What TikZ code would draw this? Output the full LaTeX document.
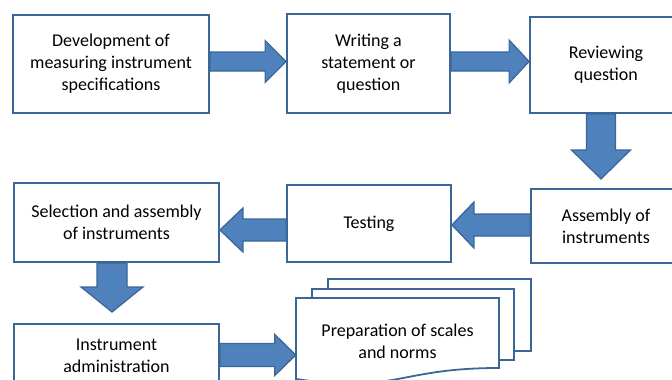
\documentclass[tikz,border=0pt]{standalone}
\usepackage{fontspec}
\setmainfont{Carlito}
\usetikzlibrary{calc,positioning}
\definecolor{boxline}{RGB}{59,103,152}
\definecolor{arrfill}{RGB}{79,129,189}
\definecolor{arrline}{RGB}{58,101,150}
\tikzset{
  procbox/.style = {draw=boxline, line width=1.8pt, fill=white, align=center,
    inner sep=0pt, font=\fontsize{18}{22}\selectfont},% step box
  docsheet/.style = {draw=boxline, line width=1.8pt, fill=white},% sheets of the document
  doctext/.style = {align=center, inner sep=0pt, font=\fontsize{18}{22}\selectfont},
  blockarr/.style n args = {3}{draw=arrline, line width=1.2pt, fill=arrfill,
    line join=miter, to path={
      ($(\tikztotarget)!#3!(\tikztostart)$) coordinate (bh)
      ($(\tikztostart)!#1!90:(\tikztotarget)$)
      -- ($(bh)!#1!90:(\tikztotarget)$)
      -- ($(bh)!#2!90:(\tikztotarget)$)
      -- (\tikztotarget)
      -- ($(bh)!#2!-90:(\tikztotarget)$)
      -- ($(bh)!#1!-90:(\tikztotarget)$)
      -- ($(\tikztostart)!#1!-90:(\tikztotarget)$)
      -- cycle}}% block arrow: shaft, head, head length
}

\begin{document}
\begin{tikzpicture}[x=1pt,y=-1pt]
  \useasboundingbox (0,0) rectangle (672,380);
  \clip (0,0) rectangle (672,380);

  % first row
  \node[procbox, minimum width=196pt, minimum height=98pt] (devel) at (111,64)
    {Development of\\measuring instrument\\specifications};
  \node[procbox, minimum width=163pt, minimum height=99pt] (write) at (368.5,63.5)
    {Writing a\\statement or\\question};
  \node[procbox, minimum width=152pt, minimum height=96pt] (review) at (606,65)
    {Reviewing\\question};

  % second row
  \node[procbox, minimum width=150pt, minimum height=74pt] (assem) at (606,226)
    {Assembly of\\instruments};
  \node[procbox, minimum width=164pt, minimum height=77pt] (test) at (369,223.5)
    {Testing};
  \node[procbox, minimum width=205pt, minimum height=79pt] (select) at (116.5,222.5)
    {Selection and assembly\\of instruments};

  % third row
  \node[procbox, minimum width=205pt, minimum height=63pt] (admin) at (116.5,355.5)
    {Instrument\\administration};

  % stacked documents
  \draw[docsheet] (328,279) rectangle (531,351);
  \draw[docsheet] (312,289) rectangle (514,360);
  \draw[docsheet] (296,298) -- (499,298) -- (499,368)
    .. controls (397,368) and (397,394) .. (296,379) -- cycle;
  \node[doctext, minimum width=203pt] (prep) at (397.5,341)
    {Preparation of scales\\and norms};

  % arrows
  \draw[blockarr={9.5pt}{21pt}{21pt}] (devel.east |- 0,61.5) to (write.west |- 0,61.5);
  \draw[blockarr={9.5pt}{21.5pt}{20pt}] (write.east |- 0,61.5) to (review.west |- 0,61.5);
  \draw[blockarr={14.5pt}{29.5pt}{29pt}] (review.south -| 601,0) to (601,179);
  \draw[blockarr={11pt}{23pt}{22pt}] (assem.west |- 0,225) to (test.east |- 0,225);
  \draw[blockarr={11pt}{22pt}{23pt}] (test.west |- 0,230) to (select.east |- 0,230);
  \draw[blockarr={15pt}{31pt}{25pt}] (select.south -| 112,0) to (112,312);
  \draw[blockarr={11.5pt}{20.5pt}{21pt}] (admin.east |- 0,355) to (prep.west |- 0,355);
\end{tikzpicture}
\end{document}
